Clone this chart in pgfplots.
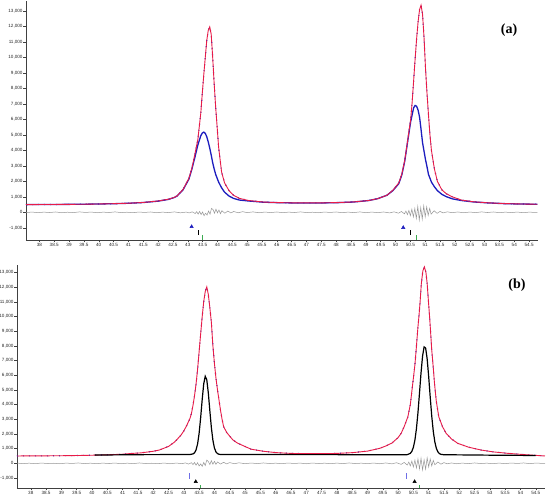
\documentclass[border=0pt]{standalone}
\usepackage{fontspec}
\setmainfont{Liberation Sans}
\newfontfamily\labfont{Liberation Serif}
\usepackage{pgfplots}
\usepackage{pgfplotstable}
\pgfplotsset{compat=1.18}
\definecolor{cred}{RGB}{232,28,72}
\definecolor{cblue}{RGB}{28,28,190}
\definecolor{cgray}{RGB}{150,150,150}
\definecolor{cgreen}{RGB}{60,170,80}
\definecolor{lblue}{RGB}{110,110,230}

\pgfplotstableread{
x y
37.55 498
38.0 500
38.5 505
39.0 512
39.5 521
40.0 537
40.5 556
41.0 585
41.5 635
42.0 730
42.34 840
42.54 960
42.64 1060
42.84 1470
43.04 2200
43.14 2850
43.24 3750
43.34 4700
43.44 6430
43.49 7700
43.54 8900
43.59 10000
43.64 11100
43.69 11750
43.74 11980
43.79 11500
43.84 10000
43.89 8300
43.94 6800
44.04 4200
44.14 2600
44.24 1900
44.39 1400
44.54 1100
44.74 900
45.05 760
45.56 660
46.06 625
46.57 608
47.07 604
47.58 610
48.08 630
48.59 670
49.10 760
49.40 880
49.71 1100
49.91 1420
50.11 1900
50.21 2450
50.31 3350
50.41 4650
50.51 6000
50.56 7100
50.61 8500
50.66 9900
50.71 11200
50.76 12300
50.81 13100
50.86 13380
50.91 12800
50.96 11300
51.01 9300
51.06 7700
51.11 6300
51.16 5000
51.21 4000
51.31 2800
51.41 2000
51.56 1450
51.71 1200
51.91 1000
52.22 790
52.62 680
53.13 610
53.64 565
54.15 540
54.78 518
}\redA

\pgfplotstableread{
x y
37.55 496
38.0 500
38.5 505
39.0 512
39.5 521
40.0 537
40.5 554
41.0 582
41.5 630
42.0 720
42.34 830
42.54 950
42.64 1050
42.84 1450
43.04 2150
43.14 2800
43.24 3550
43.34 4350
43.44 4950
43.49 5120
43.54 5180
43.59 5100
43.64 4880
43.69 4550
43.74 4150
43.79 3700
43.84 3200
43.89 2800
43.94 2450
44.04 1950
44.14 1580
44.24 1300
44.39 1050
44.54 900
44.74 790
45.05 730
45.56 650
46.06 620
46.57 604
47.07 600
47.58 606
48.08 625
48.59 664
49.10 760
49.40 880
49.71 1100
49.91 1400
50.11 1850
50.21 2400
50.31 3300
50.41 4600
50.51 5850
50.61 6750
50.66 6900
50.71 6850
50.76 6600
50.81 6150
50.86 5350
50.91 4500
50.96 3950
51.01 3400
51.06 2950
51.11 2450
51.21 1950
51.31 1650
51.41 1400
51.56 1160
51.71 1010
51.91 870
52.22 760
52.62 670
53.13 605
53.64 560
54.15 536
54.78 517
}\blueA

\pgfplotstableread{
x y
37.55 500
38.0 505
38.5 510
39.0 517
39.5 530
40.0 550
40.5 580
41.0 620
41.35 680
41.6 710
42.0 820
42.2 905
42.5 1150
42.7 1450
42.9 1900
43.0 2200
43.1 2600
43.2 3050
43.25 3400
43.3 3950
43.35 4600
43.4 5400
43.45 6400
43.5 7600
43.55 8800
43.6 9970
43.65 11000
43.7 11700
43.75 12010
43.8 11500
43.85 10600
43.9 9600
43.95 8000
44.0 6800
44.05 5800
44.1 5000
44.15 4300
44.2 3600
44.25 3000
44.3 2500
44.4 2100
44.5 1850
44.6 1600
44.75 1380
44.94 1200
45.2 960
45.6 820
46.0 730
46.5 675
47.0 655
47.5 655
48.0 675
48.5 725
49.0 830
49.4 1020
49.6 1180
49.8 1380
50.0 1750
50.1 2040
50.2 2500
50.32 3170
50.4 4000
50.48 5440
50.55 6700
50.59 7710
50.65 9300
50.68 9970
50.72 11000
50.76 12240
50.81 13100
50.86 13370
50.91 13000
50.95 12240
51.0 10800
51.03 9970
51.07 8700
51.1 7710
51.15 6500
51.19 5440
51.25 4200
51.33 3170
51.45 2500
51.57 2040
51.75 1650
51.95 1360
52.3 1100
52.71 905
53.1 780
53.58 680
54.2 580
54.8 500
}\redB

\pgfplotstableread{
x y
40.09 565
40.5 570
41.0 578
41.7 590
42.5 595
43.2 600
43.3 640
43.35 715
43.4 911
43.45 1322
43.5 2048
43.55 3105
43.6 4333
43.65 5400
43.7 5924
43.75 5693
43.8 4803
43.85 3590
43.9 2435
43.95 1571
44.0 1043
44.05 775
44.1 659
44.15 617
44.2 600
45.0 598
46.0 595
47.0 592
48.0 590
49.0 586
50.0 582
50.3 590
50.4 679
50.45 816
50.5 1091
50.55 1581
50.6 2361
50.65 3456
50.7 4789
50.75 6165
50.8 7305
50.85 7922
50.9 7851
50.95 7110
51.0 5900
51.05 4510
51.1 3214
51.15 2181
51.2 1462
51.25 1021
51.3 780
51.35 662
51.4 611
51.5 582
52.0 575
53.0 555
54.0 540
54.49 532
}\blackB

\pgfplotstableread{
x y
37.55 -20
37.75 15
37.95 -25
38.15 10
38.35 -15
38.55 20
38.75 -30
38.95 5
39.15 -20
39.35 25
39.55 -10
39.75 15
39.95 -30
40.15 10
40.35 -15
40.55 25
40.75 -20
40.95 5
41.15 -25
41.35 15
41.55 -10
41.75 20
41.95 -30
42.15 10
42.35 -20
42.55 25
42.75 -35
42.95 15
43.05 -40
43.15 30
43.25 -80
43.3 40
43.35 -120
43.4 60
43.45 -150
43.5 20
43.55 -220
43.6 -60
43.65 -180
43.7 80
43.75 -120
43.8 250
43.85 180
43.9 -60
43.95 200
44.0 -40
44.05 150
44.1 -90
44.15 100
44.25 -60
44.35 80
44.45 -40
44.55 50
44.7 -30
44.85 40
45.0 -20
45.2 25
45.4 -30
45.6 15
45.8 -20
46.0 20
46.2 -25
46.4 10
46.6 -15
46.8 25
47.0 -20
47.2 5
47.4 -30
47.6 15
47.8 -10
48.0 20
48.2 -25
48.4 10
48.6 -20
48.8 25
49.0 -30
49.2 15
49.4 -25
49.6 20
49.8 -40
49.95 30
50.1 -60
50.2 50
50.3 -100
50.35 80
50.4 -150
50.45 120
50.5 -220
50.55 200
50.6 -300
50.65 250
50.7 -400
50.75 380
50.8 -500
50.85 300
50.9 -450
50.95 420
51.0 -300
51.05 350
51.1 -200
51.15 250
51.2 -120
51.3 100
51.4 -70
51.5 60
51.6 -40
51.75 30
51.9 -25
52.1 20
52.3 -30
52.5 15
52.7 -20
52.9 25
53.1 -15
53.3 20
53.5 -25
53.7 10
53.9 -20
54.1 15
54.3 -25
54.5 10
54.78 -15
}\resA

\pgfplotstableread{
x y
37.55 15
37.75 -20
37.95 10
38.15 -25
38.35 20
38.55 -15
38.75 5
38.95 -30
39.15 15
39.35 -10
39.55 25
39.75 -20
39.95 10
40.15 -25
40.35 15
40.55 -15
40.75 20
40.95 -30
41.15 10
41.35 -20
41.55 25
41.75 -15
41.95 5
42.15 -25
42.35 20
42.55 -30
42.75 15
42.95 -20
43.05 30
43.15 -50
43.25 40
43.3 -90
43.35 60
43.4 -130
43.45 40
43.5 -180
43.55 -40
43.6 -200
43.65 60
43.7 -150
43.75 220
43.8 120
43.85 -80
43.9 180
43.95 -60
44.0 130
44.05 -70
44.1 90
44.2 -50
44.3 70
44.4 -40
44.5 50
44.65 -30
44.8 35
45.0 -25
45.2 20
45.4 -20
45.6 25
45.8 -15
46.0 10
46.2 -25
46.4 20
46.6 -10
46.8 15
47.0 -30
47.2 20
47.4 -15
47.6 10
47.8 -25
48.0 15
48.2 -20
48.4 25
48.6 -15
48.8 10
49.0 -25
49.2 20
49.4 -30
49.6 25
49.8 -35
49.95 40
50.1 -70
50.2 60
50.3 -120
50.35 90
50.4 -180
50.45 150
50.5 -250
50.55 220
50.6 -320
50.65 300
50.7 -380
50.75 350
50.8 -450
50.85 250
50.9 -400
50.95 380
51.0 -250
51.05 300
51.1 -180
51.15 200
51.2 -100
51.3 90
51.4 -60
51.5 50
51.6 -35
51.75 25
51.9 -30
52.1 15
52.3 -20
52.5 25
52.7 -15
52.9 10
53.1 -25
53.3 15
53.5 -20
53.7 20
53.9 -10
54.1 25
54.3 -20
54.5 15
54.8 -10
}\resB

\pgfplotsset{
  xrdax/.style={
    scale only axis,
    axis lines=left,
    axis line style={-, draw=black!75, line width=0.5pt},
    xmin=37.55, xmax=54.8,
    xtick={38,38.5,39,39.5,40,40.5,41,41.5,42,42.5,43,43.5,44,44.5,45,45.5,46,46.5,47,47.5,48,48.5,49,49.5,50,50.5,51,51.5,52,52.5,53,53.5,54,54.5},
    ytick={-1000,0,1000,2000,3000,4000,5000,6000,7000,8000,9000,10000,11000,12000,13000},
    scaled y ticks=false,
    scaled x ticks=false,
    tick align=outside,
    major tick length=2.5pt,
    tick style={draw=black!75, line width=0.4pt},
    ticklabel style={font=\fontsize{4.6}{5}\selectfont, text=black!85},
    /pgf/number format/assume math mode=true,
    yticklabel style={/pgf/number format/1000 sep={,}, inner sep=0.8pt},
    xticklabel style={inner sep=1pt},
    clip=false,
  }
}

\begin{document}
\begin{tikzpicture}
\useasboundingbox (0,0) rectangle (550pt,503pt);

% ---------- panel (a) ----------
\begin{axis}[xrdax, at={(26pt,263pt)}, anchor=south west,
  width=512pt, height=239pt, ymin=-1790, ymax=13650]
\addplot[cgray, line width=0.5pt] table[x=x,y=y] {\resA};
\addplot[cblue, line width=1.1pt, dash pattern=on 1pt off 5pt] table[x=x,y=y] {\redA};
\addplot[cblue, line width=1.3pt] table[x=x,y=y] {\blueA};
\addplot[cred, line width=0.9pt] table[x=x,y=y] {\redA};
\addplot[only marks, mark=triangle*, mark size=2pt, cblue] coordinates {(43.13,-930) (50.26,-990)};
\addplot[black, line width=0.6pt] coordinates {(43.35,-1150) (43.35,-1480)};
\addplot[black, line width=0.6pt] coordinates {(50.51,-1150) (50.51,-1480)};
\addplot[cgreen, line width=0.6pt] coordinates {(43.48,-1480) (43.48,-1790)};
\addplot[cgreen, line width=0.6pt] coordinates {(50.71,-1480) (50.71,-1790)};
\end{axis}

% ---------- panel (b) ----------
\begin{axis}[xrdax, at={(17pt,15pt)}, anchor=south west,
  width=528pt, height=223pt, ymin=-1680, ymax=13500]
\addplot[cgray, line width=0.5pt] table[x=x,y=y] {\resB};
\addplot[cblue, line width=1.1pt, dash pattern=on 1pt off 5pt] table[x=x,y=y] {\redB};
\addplot[cred, line width=0.9pt] table[x=x,y=y] {\redB};
\addplot[black, line width=1.2pt] table[x=x,y=y] {\blackB};
\addplot[lblue, line width=0.6pt] coordinates {(43.17,-680) (43.17,-1090)};
\addplot[lblue, line width=0.6pt] coordinates {(50.27,-680) (50.27,-1090)};
\addplot[only marks, mark=triangle*, mark size=2pt, black] coordinates {(43.39,-1250) (50.54,-1250)};
\addplot[cgreen, line width=0.6pt] coordinates {(43.53,-1480) (43.53,-1680)};
\addplot[cgreen, line width=0.6pt] coordinates {(50.70,-1480) (50.70,-1680)};
\end{axis}

\node[font=\fontsize{14}{16}\labfont\bfseries] at (509pt,473pt) {(a)};
\node[font=\fontsize{14}{16}\labfont\bfseries] at (517pt,218pt) {(b)};
\end{tikzpicture}
\end{document}
